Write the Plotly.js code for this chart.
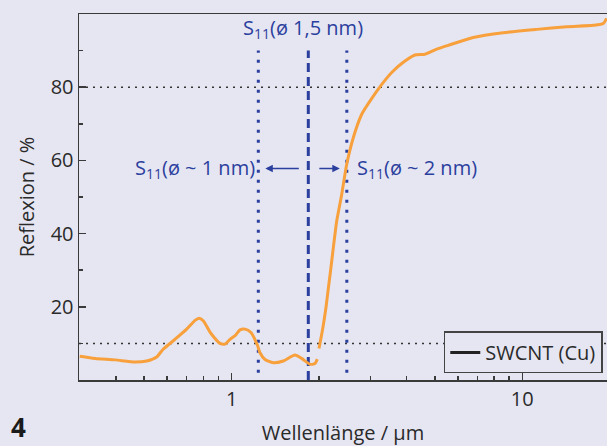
<!DOCTYPE html>
<html>
<head>
<meta charset="utf-8">
<script src="https://cdn.plot.ly/plotly-3.0.1.min.js"></script>
<style>
  html, body { margin: 0; padding: 0; background: #e6e6f2; overflow: hidden; }
  #chart { width: 607px; height: 446px; }
</style>
</head>
<body>
<div id="chart"></div>
<script>
// Wavelength in µm (null = gap in measured curve)
const wavelength = [0.30, 0.339, 0.397, 0.465, 0.510, 0.552, 0.581, 0.638, 0.700, 0.748, 0.772, 0.798,
  0.849, 0.912, 0.948, 0.987, 1.027, 1.068, 1.111, 1.165, 1.229, 1.25, 1.302, 1.39, 1.505, 1.651,
  1.741, 1.86, 1.934, 1.97, null, 1.997, 2.057, 2.111, 2.149, 2.192, 2.237, 2.298, 2.391, 2.487,
  2.621, 2.802, 2.991, 3.195, 3.553, 3.895, 4.273, 4.624, 5.075, 5.64, 6.78, 8.60, 11.21, 14.22,
  17.55, 19.0, 19.5];
// Reflexion in %
const reflexion = [6.5, 5.9, 5.5, 4.9, 5.2, 6.3, 8.4, 11.1, 13.9, 16.3, 16.9, 16.2,
  12.7, 10.0, 9.8, 11.1, 12.1, 13.7, 13.9, 13.0, 9.3, 7.5, 5.6, 4.7, 5.2, 6.8,
  5.9, 4.3, 4.5, 5.7, null, 8.6, 14.0, 19.8, 24.8, 30.2, 36.1, 43.4, 50.7, 58.9,
  66.2, 72.6, 76.2, 79.5, 84.0, 86.8, 88.8, 89.0, 90.4, 91.6, 93.6, 94.9, 95.8, 96.5,
  96.9, 97.4, 98.8];

// S11 transition markers (µm)
const s11Small = 1.235;   // ø ~ 1 nm
const s11Mid = 1.835;     // ø 1,5 nm
const s11Large = 2.49;    // ø ~ 2 nm
const refLevels = [80, 10];

const xTickVals = [1, 10];
const xTickText = ['1', '10'];
const xMinorVals = [0.4, 0.5, 0.6, 0.7, 0.8, 0.9, 2, 3, 4, 5, 6, 7, 8, 9];
const yTickVals = [20, 40, 60, 80];
const yMinorVals = [10, 30, 50, 70, 90];

const seriesName = 'SWCNT (Cu)';

const blue = '#2b3f9e';
const orange = '#f7a03c';
const axisCol = '#3a3a3a';
const bg = '#e6e6f2';
const font = 'Open Sans, Noto Sans, sans-serif';

const traces = [
  {
    x: wavelength, y: reflexion, type: 'scatter', mode: 'lines',
    line: {color: orange, width: 3, shape: 'spline', smoothing: 0.6},
    connectgaps: false, showlegend: false, hoverinfo: 'skip'
  },
  {
    x: [null], y: [null], type: 'scatter', mode: 'lines',
    name: seriesName, line: {color: '#222', width: 3}, showlegend: true
  }
];

const shapes = [];
refLevels.forEach(v => shapes.push({
  type: 'line', xref: 'paper', x0: 0, x1: 1, yref: 'y', y0: v, y1: v,
  line: {color: '#333', width: 1.5, dash: '2px,5px'}, layer: 'below'
}));
[[s11Small, 2, '3px,7px'], [s11Mid, 0, '9px,5px'], [s11Large, 2, '3px,7px']].forEach(([x, y0, d]) => shapes.push({
  type: 'line', xref: 'x', yref: 'y', x0: x, x1: x, y0: y0, y1: 90,
  line: {color: blue, width: 3, dash: d}, layer: 'below'
}));

const annFont = {family: font, size: 20, color: blue};
const annotations = [
  {x: Math.log10(s11Mid), y: 96, xref: 'x', yref: 'y', text: 'S<sub>11</sub>(ø 1,5 nm)',
   showarrow: false, xanchor: 'center', yanchor: 'middle', xshift: -5, font: annFont},
  {x: Math.log10(s11Small), y: 57.8, xref: 'x', yref: 'y', text: 'S<sub>11</sub>(ø ~ 1 nm)',
   showarrow: false, xanchor: 'right', yanchor: 'middle', xshift: -1, font: annFont},
  {x: Math.log10(s11Large), y: 57.8, xref: 'x', yref: 'y', text: 'S<sub>11</sub>(ø ~ 2 nm)',
   showarrow: false, xanchor: 'left', yanchor: 'middle', xshift: 8, font: annFont},
  {x: Math.log10(s11Small), y: 57.8, xref: 'x', yref: 'y', text: '', xshift: 7,
   showarrow: true, arrowhead: 2, arrowsize: 1, arrowwidth: 1.5, arrowcolor: blue,
   ax: 35, ay: 0, standoff: 0},
  {x: Math.log10(s11Large), y: 57.8, xref: 'x', yref: 'y', text: '', xshift: -7,
   showarrow: true, arrowhead: 2, arrowsize: 1, arrowwidth: 1.5, arrowcolor: blue,
   ax: -22, ay: 0, standoff: 0},
  {x: 0, y: 0, xref: 'paper', yref: 'paper', xshift: -70, yshift: -67, text: '<b>4</b>',
   showarrow: false, xanchor: 'left', yanchor: 'bottom', font: {family: font, size: 26, color: '#1a1a1a'}}
];

const layout = {
  width: 607, height: 446,
  margin: {l: 79, r: 0, t: 14, b: 66},
  paper_bgcolor: bg, plot_bgcolor: bg,
  font: {family: font, size: 20, color: '#2a2a2a'},
  xaxis: {
    type: 'log', range: [-0.5254, 1.2915],
    tickmode: 'array', tickvals: xTickVals, ticktext: xTickText,
    ticks: 'inside', ticklen: 7, tickwidth: 1.5, tickcolor: axisCol,
    minor: {tickmode: 'array', tickvals: xMinorVals, ticks: 'inside', ticklen: 4, tickwidth: 1.5, tickcolor: axisCol, showgrid: false},
    showline: true, linecolor: axisCol, linewidth: 1.5, mirror: true,
    showgrid: false, zeroline: false,
    tickfont: {family: font, size: 20, color: '#2a2a2a'},
    title: {text: 'Wellenlänge / µm', font: {family: font, size: 20, color: '#2a2a2a'}, standoff: 16}
  },
  yaxis: {
    range: [0, 100],
    tickmode: 'array', tickvals: yTickVals,
    ticks: 'inside', ticklen: 7, tickwidth: 1.5, tickcolor: axisCol,
    minor: {tickmode: 'array', tickvals: yMinorVals, ticks: 'inside', ticklen: 4, tickwidth: 1.5, tickcolor: axisCol, showgrid: false},
    showline: true, linecolor: axisCol, linewidth: 1.5,
    showgrid: false, zeroline: false,
    tickfont: {family: font, size: 20, color: '#2a2a2a'},
    title: {text: 'Reflexion / %', font: {family: font, size: 20, color: '#2a2a2a'}, standoff: 10}
  },
  showlegend: true,
  legend: {
    x: 0.992, xanchor: 'right', y: 0.018, yanchor: 'bottom',
    bgcolor: bg, bordercolor: '#444', borderwidth: 1.5,
    font: {family: font, size: 20, color: '#2a2a2a'},
    itemwidth: 30, tracegroupgap: 0
  },
  shapes: shapes,
  annotations: annotations
};

Plotly.newPlot('chart', traces, layout, {displayModeBar: false, staticPlot: true});
</script>
</body>
</html>
